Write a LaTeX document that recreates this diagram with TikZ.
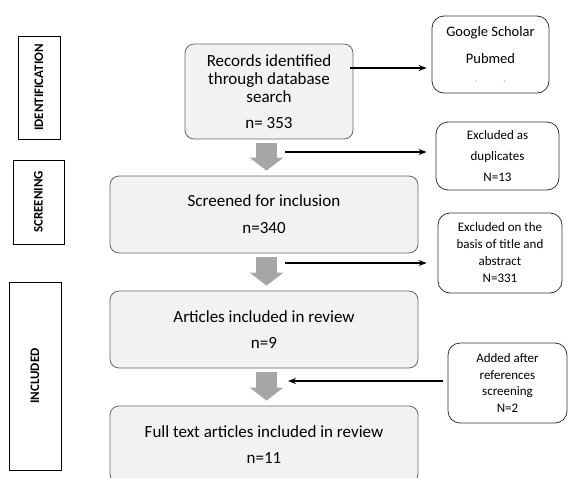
\documentclass[tikz,border=0pt]{standalone}
\usepackage{fontspec}
\setmainfont{Carlito}
\usetikzlibrary{arrows.meta, calc}
\definecolor{boxgrey}{RGB}{242,242,242}
\definecolor{edgegrey}{RGB}{105,105,105}
\definecolor{arrowgrey}{RGB}{166,166,166}

\begin{document}
\begin{tikzpicture}[x=1pt, y=-1pt,
    stagebox/.style={draw=black, line width=0.8pt, rotate=90, inner sep=0pt, font=\fontsize{13}{14}\selectfont\bfseries},
    mainbox/.style={draw=edgegrey, fill=boxgrey, rounded corners=9pt, line width=0.8pt, align=center, inner sep=0pt, minimum width=308pt, minimum height=77pt, font=\fontsize{17}{18}\selectfont},
    sidebox/.style={draw=black!80, rounded corners=12pt, line width=0.8pt, align=center, inner sep=0pt, font=\fontsize{13}{16.5}\selectfont},
    bigflow/.style={arrowgrey, line width=21pt, -{Triangle[length=13pt, width=33pt]}, shorten <=4pt, shorten >=5pt},
    link/.style={-{Stealth[length=8pt, width=6pt]}, line width=1.2pt}]
    \useasboundingbox (0,0) rectangle (568,477);
    \clip (0,0) rectangle (568,477);

    % stage labels
    \node[stagebox, minimum width=103pt, minimum height=42pt] (Ident) at (39,87.5) {IDENTIFICATION};
    \node[stagebox, minimum width=84pt, minimum height=51pt] (Screen) at (38.5,202) {SCREENING};
    \node[stagebox, minimum width=188pt, minimum height=52pt] (Incl) at (35,376) {INCLUDED};

    % main flow
    \node[mainbox, minimum width=168pt, minimum height=95pt] (Records) at (269,91.5) {Records identified\\through database\\search\\[8pt]n= 353};
    \node[mainbox] (Screened) at (264,214.5) {Screened for inclusion\\[9pt]n=340};
    \node[mainbox] (Articles) at (264,329.5) {Articles included in review\\[8pt]n=9};
    \node[mainbox] (Fulltext) at (264,444.5) {Full text articles included in review\\[8pt]n=11};

    \foreach \a/\b in {Records/Screened, Screened/Articles, Articles/Fulltext}
        \draw[bigflow] ($(\b.north |- \a.south)+(2.5,0)$) -- ($(\b.north)+(2.5,0)$);

    % side boxes
    \node[sidebox, minimum width=117pt, minimum height=77pt, font=\fontsize{14.5}{16}\selectfont] (Google) at (490.5,54.5) {Google Scholar\\[11pt]Pubmed\\[3pt]{\color{black!20}.\hspace{25pt}.}};
    \node[sidebox, minimum width=123pt, minimum height=68pt, font=\fontsize{13}{21}\selectfont] (Dup) at (497.5,156) {Excluded as\\duplicates\\N=13};
    \node[sidebox, minimum width=124pt, minimum height=80pt, font=\fontsize{13}{17}\selectfont] (Basis) at (500,253) {Excluded on the\\basis of title and\\abstract\\N=331};
    \node[sidebox, minimum width=119pt, minimum height=80pt] (Added) at (507.5,383) {Added after\\references\\screening\\N=2};

    \coordinate (out0) at (350,68);
    \coordinate (out1) at (285,152);
    \coordinate (out2) at (285,263);
    \coordinate (in3) at (288,381);

    \draw[link, shorten >=5pt] (out0) -- (out0 -| Google.west);
    \draw[link, shorten >=9pt] (out1) -- (out1 -| Dup.west);
    \draw[link, shorten >=11pt] (out2) -- (out2 -| Basis.west);
    \draw[link, shorten <=5pt] (in3 -| Added.west) -- (in3);
\end{tikzpicture}
\end{document}
